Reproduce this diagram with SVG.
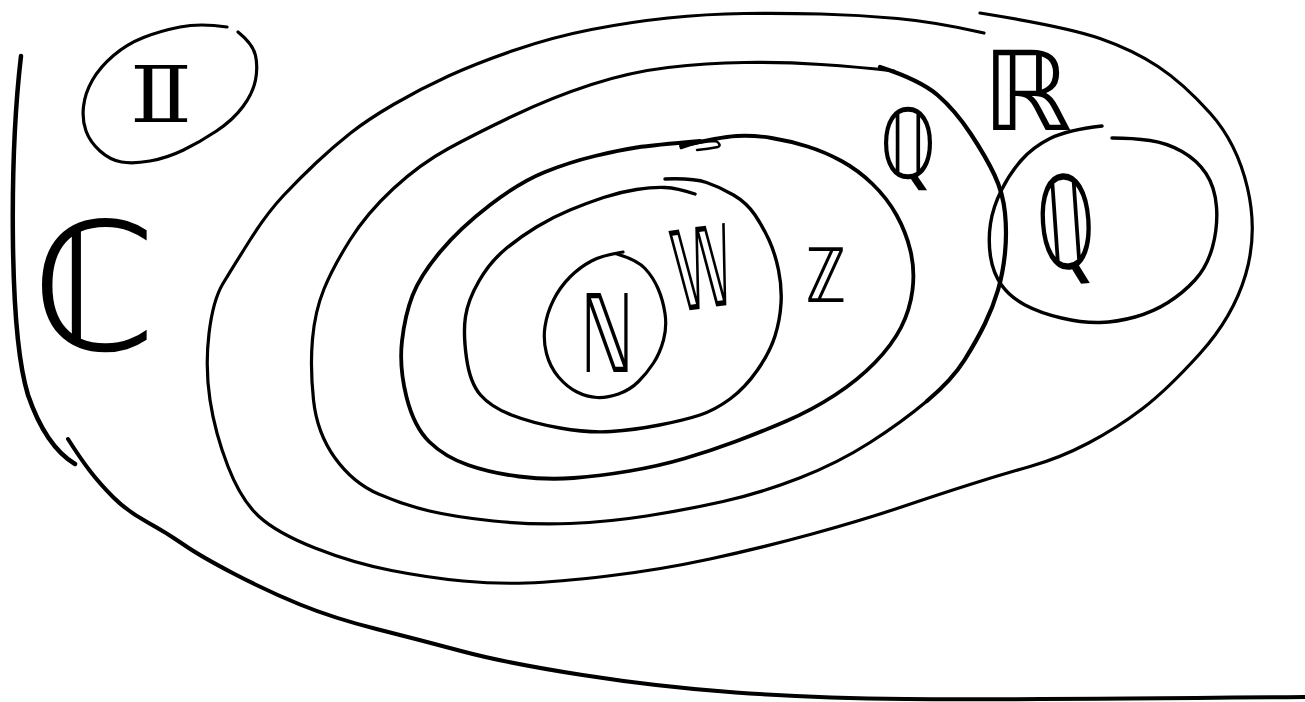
<svg xmlns="http://www.w3.org/2000/svg" width="1305" height="702" viewBox="0 0 1305 702">
<style>
.ln{fill:none;stroke:#000;stroke-linecap:round;stroke-linejoin:round}
.lb{font-family:"DejaVu Sans","Noto Sans",sans-serif;fill:#000}
</style>
<rect width="1305" height="702" fill="#fff"/>
<g id="set-C">
<path class="ln" stroke-width="4.5" d="M21,56 C10,150 8,330 28,395 C40,430 55,452 75,464"/>
<path class="ln" stroke-width="4" d="M68,439 Q80,458 90,471 Q100,484 113.5,497.5 Q127,511 147,522 Q167,533 183.5,544.5 Q200,556 233.5,573.5 Q267,591 300,604.5 Q333,618 376.5,629 Q420,640 463,651.5 Q506,663 582.5,675 Q659,687 735.5,692.5 Q812,698 906,699 Q1000,700 1305,697"/>
<text class="lb" x="32" y="350" font-size="178">ℂ</text>
</g>
<g id="set-I">
<path class="ln" stroke-width="3.2" d="M227,27 Q200,23 180,27 Q160,31 143.5,37.5 Q127,44 113.5,55.5 Q100,67 92.5,80 Q85,93 83.5,106.5 Q82,120 86,131 Q90,142 100,151 Q110,160 121.5,162 Q133,164 150,161 Q167,158 183.5,150 Q200,142 216.5,131 Q233,120 243,106.5 Q253,93 255.5,80 Q258,67 255.5,55.5 Q253,44 238,32"/>
<text class="lb" x="126" y="122" font-size="78" textLength="70" lengthAdjust="spacingAndGlyphs">𝕀</text>
</g>
<g id="set-R">
<path class="ln" stroke-width="3.2" d="M980,13 Q1067,27 1100,38.5 Q1133,50 1158,66.5 Q1183,83 1210,113 Q1237,143 1247.5,188 Q1258,233 1245.5,275 Q1233,317 1200,353.5 Q1167,390 1142,409 Q1117,428 1088.5,443 Q1060,458 1030,466.5 Q1000,475 970,484.5 Q940,494 901.5,507 Q863,520 812,534 Q761,548 710,559 Q659,570 608,576 Q557,582 526.5,583 Q496,584 463,581 Q430,578 391.5,570.5 Q353,563 315,548 Q277,533 259,516.5 Q241,500 228,466.5 Q215,433 210,400 Q205,367 209,333.5 Q213,300 223,283.5 Q233,267 250,240 Q267,213 283.5,195.5 Q300,178 316.5,162.5 Q333,147 350,133.5 Q367,120 393.5,104.5 Q420,89 448.5,76 Q477,63 515,50 Q553,37 591.5,29.5 Q630,22 668,18 Q706,14 744.5,13.5 Q783,13 821,14 Q859,15 897.5,18.5 Q936,22 984,33"/>
<text class="lb" x="982" y="130" font-size="110" textLength="90" lengthAdjust="spacingAndGlyphs">ℝ</text>
</g>
<g id="set-Q">
<path class="ln" stroke-width="4.2" d="M880,67 Q920,80 937.5,95 Q955,110 970.5,133.5 Q986,157 994.5,175 Q1003,193 1005,213 Q1007,233 1005,253 Q1003,273 998,290 Q993,307 985,323.5 Q977,340 964.5,360 Q952,380 927,401"/>
<path class="ln" stroke-width="3.2" d="M927,401 Q902,422 870,442.5 Q838,463 799.5,478 Q761,493 723,501.5 Q685,510 646.5,516 Q608,522 570,523.5 Q532,525 493.5,521 Q455,517 429.5,511 Q404,505 378.5,494 Q353,483 335,458 Q317,433 313.5,400 Q310,367 312.5,339 Q315,311 324,289 Q333,267 350,240 Q367,213 393.5,188.5 Q420,164 448.5,148.5 Q477,133 515,115 Q553,97 591.5,84.5 Q630,72 668,67.5 Q706,63 744.5,62.5 Q783,62 821,64.5 Q859,67 894,71"/>
<text class="lb" x="880" y="178" font-size="96" textLength="56" lengthAdjust="spacingAndGlyphs">ℚ</text>
</g>
<g id="set-Z">
<path class="ln" stroke-width="3.8" d="M681,146 Q720,137 736.5,136 Q753,135 771.5,138 Q790,141 807.5,146.5 Q825,152 841.5,161 Q858,170 872.5,184 Q887,198 896.5,215 Q906,232 910.5,251 Q915,270 912.5,290 Q910,310 901,327.5 Q892,345 875,362.5 Q858,380 835,395 Q812,410 786.5,421 Q761,432 735.5,441.5 Q710,451 684.5,458.5 Q659,466 629.5,471 Q600,476 573.5,478 Q547,480 519,476.5 Q491,473 468,465 Q445,457 429.5,442 Q414,427 406.5,397 Q399,367 402,341 Q405,315 412.5,295.5 Q420,276 440,252 Q460,228 490,205 Q520,182 545,172 Q570,162 595,156 Q620,150 636.5,147.5 Q653,145 700,141"/>
<path class="ln" stroke-width="2.5" d="M681,148 Q700,141 716,141 Q722,145 718,147 Q708,149 697,150"/>
<text class="lb" x="806" y="302" font-size="75" textLength="40" lengthAdjust="spacingAndGlyphs">ℤ</text>
</g>
<g id="set-W">
<path class="ln" stroke-width="3.4" d="M665,179 Q693,178 706.5,182.5 Q720,187 733.5,195 Q747,203 755,215 Q763,227 769,240 Q775,253 778.5,270 Q782,287 781,303.5 Q780,320 775,336 Q770,352 757.5,370 Q745,388 730,399 Q715,410 700,415 Q685,420 659.5,425 Q634,430 611,431.5 Q588,433 560,428 Q532,423 511.5,415 Q491,407 480.5,395 Q470,383 466.5,358 Q463,333 465.5,316.5 Q468,300 479,281 Q490,262 505,249.5 Q520,237 536.5,227 Q553,217 570,210 Q587,203 603.5,197.5 Q620,192 636.5,189.5 Q653,187 665,187.5 Q677,188 695,194"/>
<text class="lb" x="0" y="0" font-size="112" textLength="60" lengthAdjust="spacingAndGlyphs" transform="translate(678,312) rotate(-8)">𝕎</text>
</g>
<g id="set-N">
<path class="ln" stroke-width="3.2" d="M623,252 Q603,255 591.5,261 Q580,267 570,277 Q560,287 553.5,300 Q547,313 545,326.5 Q543,340 546.5,353.5 Q550,367 558.5,377 Q567,387 577,392 Q587,397 597,397.5 Q607,398 618.5,394 Q630,390 638.5,381.5 Q647,373 653.5,363 Q660,353 663.5,340 Q667,327 665,313.5 Q663,300 658,288.5 Q653,277 645,268.5 Q637,260 617,254"/>
<text class="lb" x="580" y="372" font-size="108" textLength="54" lengthAdjust="spacingAndGlyphs">ℕ</text>
</g>
<g id="set-Qc">
<path class="ln" stroke-width="3.4" d="M1102,126 Q1067,130 1050,138.5 Q1033,147 1021.5,160 Q1010,173 1001.5,190 Q993,207 990.5,223.5 Q988,240 990.5,256.5 Q993,273 1001.5,285 Q1010,297 1025,305 Q1040,313 1061.5,318 Q1083,323 1100,322.5 Q1117,322 1135,317 Q1153,312 1168,302.5 Q1183,293 1195,280 Q1207,267 1212.5,247 Q1218,227 1216.5,207 Q1215,187 1206,173.5 Q1197,160 1182,151.5 Q1167,143 1150,140.5 Q1133,138 1112,138"/>
<text class="lb" x="0" y="0" font-size="128" textLength="58" lengthAdjust="spacingAndGlyphs" transform="translate(1040,270) rotate(-4)">ℚ</text>
</g>
<g id="connectors"/>
</svg>
